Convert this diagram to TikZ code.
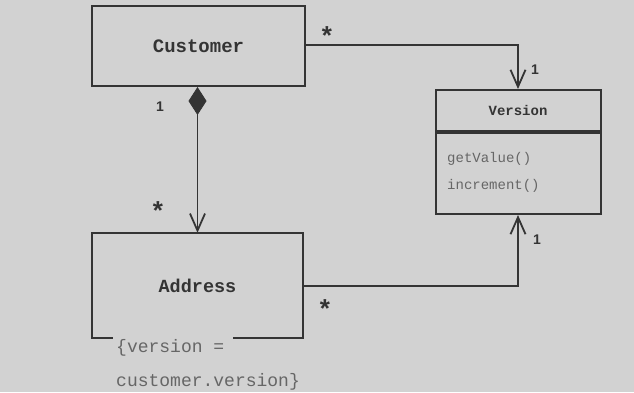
\documentclass[tikz,border=0pt]{standalone}
\usepackage{fontspec}
\setmainfont{Liberation Sans}
\setmonofont{Liberation Mono}
\usetikzlibrary{arrows.meta,calc}
\definecolor{bg}{HTML}{D2D2D2}
\definecolor{ink}{HTML}{343434}
\definecolor{soft}{HTML}{666666}
\tikzset{
  box/.style={draw=ink, line width=2pt, inner sep=0pt},
  clsname/.style={font=\ttfamily\bfseries\fontsize{#1}{#1}\selectfont, text=ink},
  conn/.style={draw=ink, line width=1.8pt},
  openhead/.style={-{Straight Barb[length=17pt,width=15pt,line width=1.8pt]}},
  diamhead/.style={{Diamond[length=28pt,width=18pt,line width=0.8pt]}-{Straight Barb[length=17pt,width=15pt,line width=1.8pt]}},
  mult/.style={font=\bfseries\fontsize{14}{14}\selectfont, text=ink, inner sep=0pt},
  many/.style={font=\bfseries\fontsize{26}{26}\selectfont, text=ink, inner sep=0pt},
  body/.style={font=\ttfamily\fontsize{#1}{#1}\selectfont, text=soft, align=left, inner sep=0pt}
}
\begin{document}
\begin{tikzpicture}[x=1pt,y=-1pt]
\fill[bg] (0,0) rectangle (634,392);
\useasboundingbox (0,0) rectangle (634,392);

% Customer
\node[box, clsname=19, minimum width=213pt, minimum height=80pt] (cust) at (198.5,46) {Customer};

% Version
\node[box, clsname=14, minimum width=165pt, minimum height=41pt] (ver) at (518,110.5) {Version};
\node[box, minimum width=165pt, minimum height=81pt, anchor=north] (vm) at (ver.south) {};
\node[body=14, anchor=west, font=\ttfamily\fontsize{14}{27}\selectfont] (vmt) at (447,172.5) {getValue()\\increment()};

% Address (bottom edge broken by constraint)
\node[clsname=18.5, minimum width=211pt, minimum height=105pt, inner sep=0pt] (addr) at (197.5,285.5) {Address};
\draw[box] ($(addr.south west)+(21,0)$) -- (addr.south west) -- (addr.north west)
  -- (addr.north east) -- (addr.south east) -- ($(addr.south east)+(-70,0)$);
\node[body=18, anchor=north west, font=\ttfamily\fontsize{18}{34}\selectfont] (cons) at (116,339) {\{version =\\customer.version\}};

% Connectors
\draw[conn, openhead] (cust.east |- 0,45) -| (ver.north);
\draw[conn, diamhead] (addr.north |- cust.south) -- (addr.north);
\draw[conn, openhead] (addr.east |- 0,286) -| (vm.south);

% Multiplicities
\node[many] (m1) at (327,36) {*};
\node[mult] (m2) at (535,70) {1};
\node[mult] (m3) at (160,107) {1};
\node[many] (m4) at (158,211) {*};
\node[many] (m5) at (325,309) {*};
\node[mult] (m6) at (537,240) {1};
\end{tikzpicture}
\end{document}
